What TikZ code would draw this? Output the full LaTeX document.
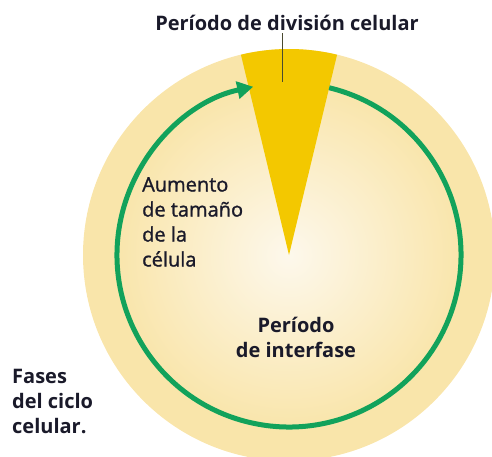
\documentclass[tikz,border=0pt]{standalone}
\usepackage{fontspec}
\setmainfont{Open Sans}
\newfontfamily\mediumface[FakeBold=1.2]{Open Sans}
\usetikzlibrary{arrows.meta,calc}
\definecolor{ringcol}{HTML}{F9E5AA}
\definecolor{centercol}{HTML}{FDF8EC}
\definecolor{wedgecol}{HTML}{F3C800}
\definecolor{greencol}{HTML}{12A25B}
\definecolor{textcol}{HTML}{1A1A2A}
\definecolor{leadcol}{HTML}{4A4A30}
\tikzset{
  lbl/.style={inner sep=0pt, text=textcol},
  boldlbl/.style={lbl, font=\bfseries\fontsize{20}{25}\selectfont},
  medlbl/.style={lbl, font=\mediumface\fontsize{20}{25}\selectfont},
  cyclearrow/.style={greencol, line width=5pt, -{Triangle[length=16pt,width=17pt]}},
}
\begin{document}
\begin{tikzpicture}[x=1pt,y=1pt]
\useasboundingbox (0,0) rectangle (492,456);
\clip (0,0) rectangle (492,456);
\coordinate (c) at (289,201);
% outer disk
\fill[ringcol] (c) circle[radius=206];
% inner shaded disk
\shade[inner color=centercol, outer color=ringcol] (c) circle[radius=176];
% wedge
\fill[wedgecol] (c) -- ($(c)+(76.5:206)$) arc[start angle=76.5, end angle=103.5, radius=206] -- cycle;
% cycle arrow
\draw[cyclearrow] ($(c)+(76.5:172)$) arc[start angle=76.5, end angle=-258, radius=172];
% labels
\node[boldlbl, anchor=base] (title) at (287,425) {Período de división celular};
\coordinate (leadend) at (282,374);
\draw[leadcol, line width=1pt] (title.south -| leadend) ++(0,-2) -- (leadend);
\node[medlbl, anchor=north west, align=left] (growth) at (142,279) {Aumento\\de tamaño\\de la\\célula};
\node[boldlbl, anchor=north, align=center] (inter) at (296,139) {Período\\de interfase};
\node[boldlbl, anchor=north west, align=left] (fases) at (12,87) {Fases\\del ciclo\\celular.};
\end{tikzpicture}
\end{document}
